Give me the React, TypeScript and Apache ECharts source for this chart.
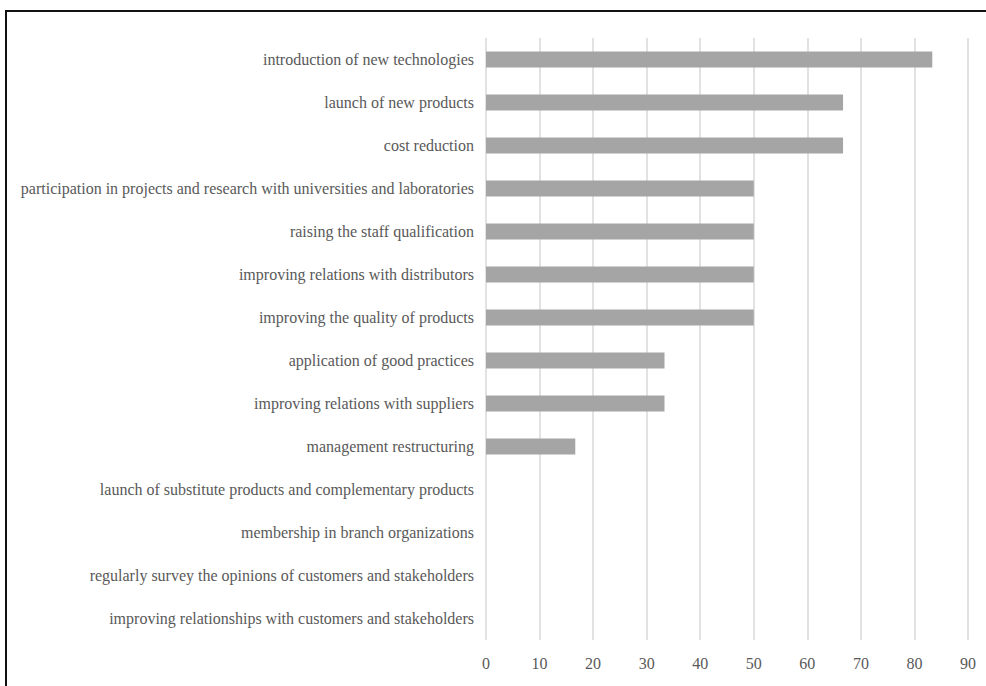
import React, { useEffect, useRef } from "react";
import * as echarts from "echarts";

const categories = [
  "introduction of new technologies",
  "launch of new products",
  "cost reduction",
  "participation in projects and research with universities and laboratories",
  "raising the staff qualification",
  "improving relations with distributors",
  "improving the quality of products",
  "application of good practices",
  "improving relations with suppliers",
  "management restructuring",
  "launch of substitute products and complementary products",
  "membership in branch organizations",
  "regularly survey the opinions of customers and stakeholders",
  "improving relationships with customers and stakeholders",
];
const values = [83.33, 66.67, 66.67, 50, 50, 50, 50, 33.33, 33.33, 16.67, 0, 0, 0, 0];
const xTicks = { min: 0, max: 90, interval: 10 };

export default function App() {
  const ref = useRef<HTMLDivElement>(null);
  useEffect(() => {
    if (!ref.current) return;
    const chart = echarts.init(ref.current, undefined, { renderer: "svg" });
    chart.setOption({
      animation: false,
      grid: { left: 486, right: 18, top: 38, bottom: 46, containLabel: false },
      xAxis: {
        type: "value",
        min: xTicks.min,
        max: xTicks.max,
        interval: xTicks.interval,
        axisLine: { show: false },
        axisTick: { show: false },
        axisLabel: {
          color: "#595959",
          fontFamily: "Liberation Serif",
          fontSize: 16,
          margin: 15,
        },
        splitLine: { show: true, lineStyle: { color: "#d9d9d9", width: 1.5 } },
      },
      yAxis: {
        type: "category",
        data: categories,
        inverse: true,
        axisLine: { show: false },
        axisTick: { show: false },
        axisLabel: {
          color: "#595959",
          fontFamily: "Liberation Serif",
          fontSize: 16,
          margin: 12,
        },
        splitLine: { show: false },
      },
      series: [
        {
          type: "bar",
          data: values,
          barWidth: 16,
          itemStyle: { color: "#a5a5a5" },
        },
      ],
    });
    return () => chart.dispose();
  }, []);
  return (
    <div style={{ position: "fixed", left: 0, top: 0, width: 986, height: 686, overflow: "hidden", background: "#fff" }}>
      <div
        style={{
          position: "absolute",
          left: 5,
          top: 10,
          width: 1100,
          height: 800,
          borderTop: "2px solid #111",
          borderLeft: "2px solid #111",
        }}
      />
      <div ref={ref} style={{ position: "absolute", left: 0, top: 0, width: 986, height: 686 }} />
    </div>
  );
}
